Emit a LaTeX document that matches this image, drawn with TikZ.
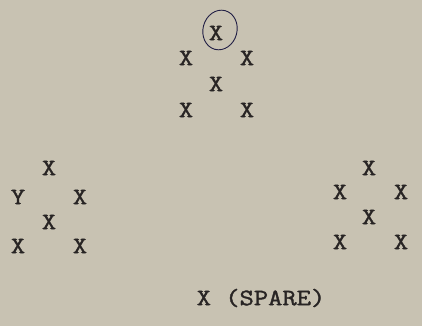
\documentclass[tikz,border=0pt]{standalone}
\usepackage{fontspec}
\setmonofont{Latin Modern Mono}[FakeBold=1.4]
\definecolor{paper}{RGB}{200,194,178}
\definecolor{ink}{RGB}{40,36,36}
\newcommand{\tw}[1]{\scalebox{1.18}[1]{\ttfamily #1}}
\begin{document}
\begin{tikzpicture}[x=1pt,y=-1pt,
  glyph/.style={font=\ttfamily\fontsize{23.5}{23.5}\selectfont, text=ink, inner sep=0pt, anchor=center},
  ring/.style={draw=ink!85!blue, line width=0.9pt}]
\fill[paper] (0,0) rectangle (422,326);
\useasboundingbox (0,0) rectangle (422,326);
% top group
\node[glyph] (t0) at (216,33) {\tw{X}};
\node[glyph] (t1) at (186,58) {\tw{X}};
\node[glyph] (t2) at (247,58) {\tw{X}};
\node[glyph] (t3) at (216,84) {\tw{X}};
\node[glyph] (t4) at (186,110) {\tw{X}};
\node[glyph] (t5) at (247,110) {\tw{X}};
\draw[ring, rotate around={-15:(220,30)}] (220,30) ellipse [x radius=17, y radius=20];
% left group
\node[glyph] (l0) at (49,168) {\tw{X}};
\node[glyph] (l1) at (18,197) {\tw{Y}};
\node[glyph] (l2) at (80,197) {\tw{X}};
\node[glyph] (l3) at (49,222) {\tw{X}};
\node[glyph] (l4) at (18,246) {\tw{X}};
\node[glyph] (l5) at (80,246) {\tw{X}};
% right group
\node[glyph] (r0) at (369,168) {\tw{X}};
\node[glyph] (r1) at (340,192) {\tw{X}};
\node[glyph] (r2) at (401,192) {\tw{X}};
\node[glyph] (r3) at (369,217) {\tw{X}};
\node[glyph] (r4) at (340,242) {\tw{X}};
\node[glyph] (r5) at (401,242) {\tw{X}};
% spare
\node[glyph] (sp) at (261,298) {\tw{X (SPARE)}};
\end{tikzpicture}
\end{document}
